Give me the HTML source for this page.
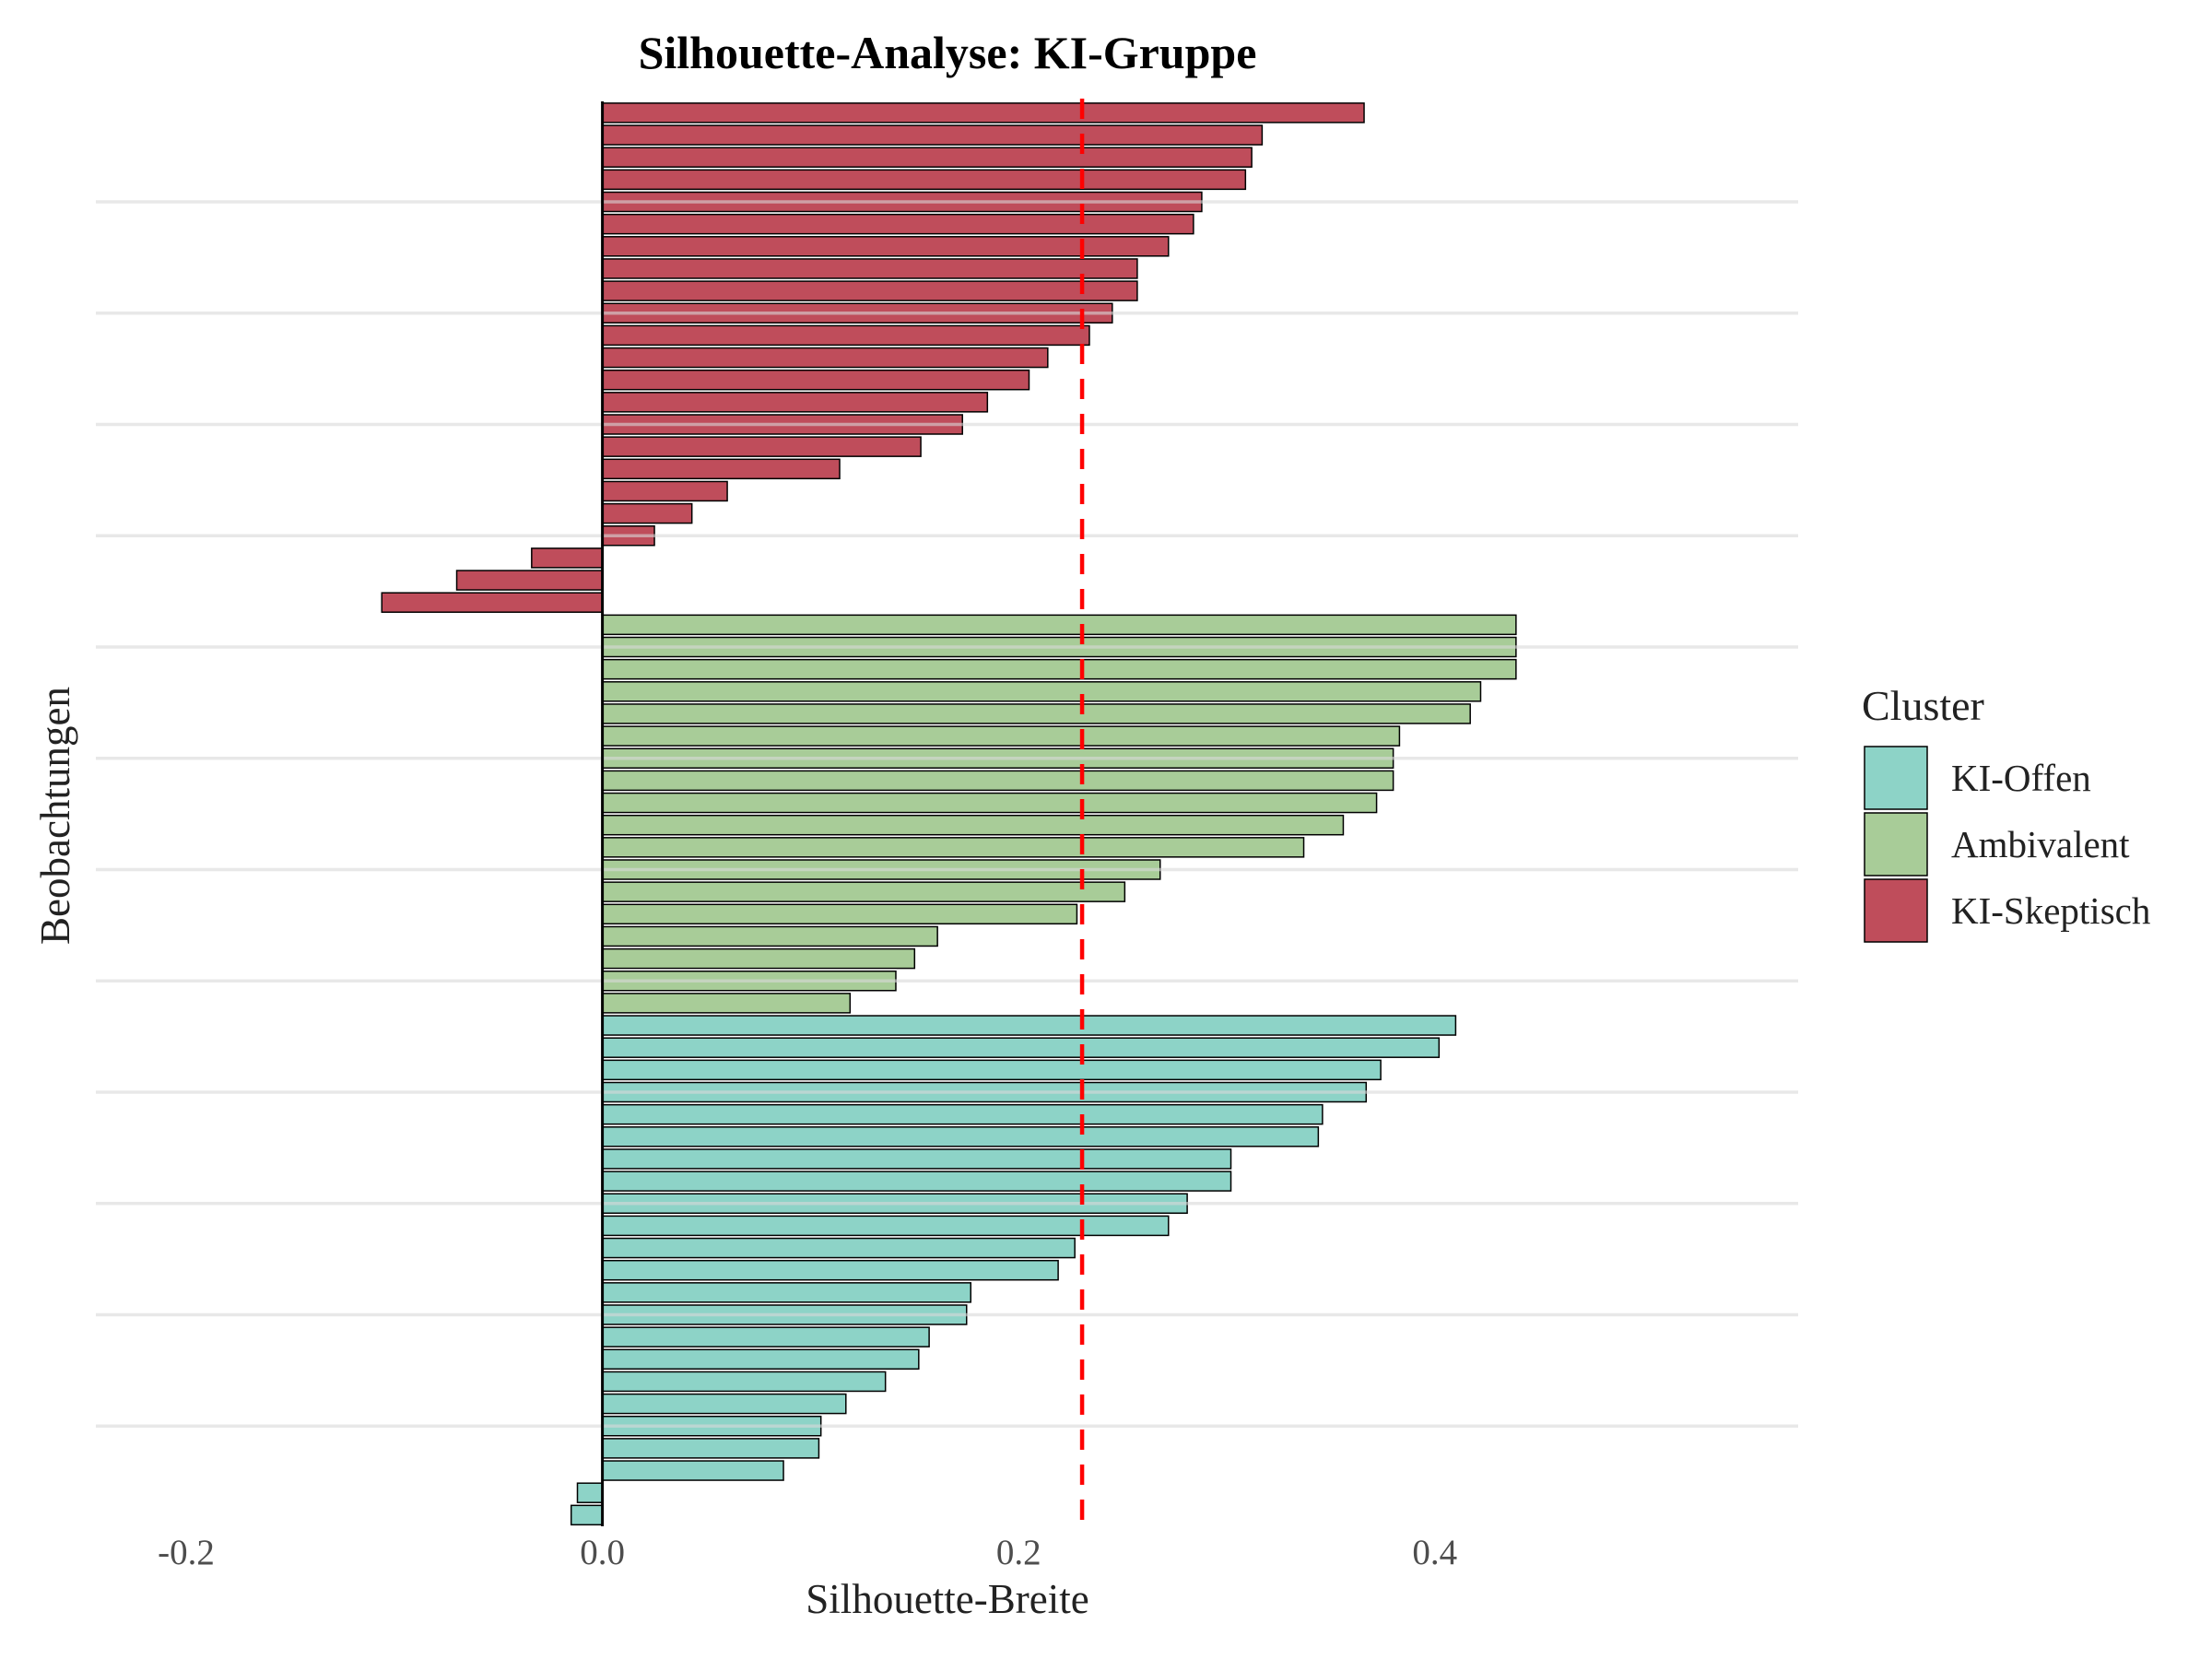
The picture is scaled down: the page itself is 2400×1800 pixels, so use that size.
<!DOCTYPE html>
<html><head><meta charset="utf-8"><style>
html,body{margin:0;padding:0;background:#fff;}
svg{display:block;font-family:"Liberation Serif",serif;}
</style></head><body>
<svg id="chart" width="2400" height="1800" viewBox="0 0 2400 1800">
<text x="1028" y="74" text-anchor="middle" font-size="50" font-weight="bold">Silhouette-Analyse: KI-Gruppe</text>
<g id="bars"></g>
<g id="grid"></g>
<g id="overlay"></g>
<g id="xticks"></g>
<text x="1028" y="1750" text-anchor="middle" font-size="45" fill="#222">Silhouette-Breite</text>
<text transform="translate(75,885) rotate(-90)" text-anchor="middle" font-size="45" fill="#222">Beobachtungen</text>
<g>
<text x="2020" y="781" font-size="46" fill="#222">Cluster</text>
<g><rect x="2023" y="810" width="68" height="68" fill="#8DD3C7" stroke="#000" stroke-width="1.5"/><text x="2117" y="858" font-size="41" fill="#222">KI-Offen</text></g>
<g><rect x="2023" y="882" width="68" height="68" fill="#A8CC98" stroke="#000" stroke-width="1.5"/><text x="2117" y="930" font-size="41" fill="#222">Ambivalent</text></g>
<g><rect x="2023" y="954" width="68" height="68" fill="#BF4D5B" stroke="#000" stroke-width="1.5"/><text x="2117" y="1002" font-size="41" fill="#222">KI-Skeptisch</text></g>
</g>
</svg>
<script>
const skeptisch=[0.366,0.317,0.312,0.309,0.288,0.284,0.272,0.257,0.257,0.245,0.234,0.214,0.205,0.185,0.173,0.153,0.114,0.060,0.043,0.025,-0.034,-0.070,-0.106];
const ambivalent=[0.439,0.439,0.439,0.422,0.417,0.383,0.380,0.380,0.372,0.356,0.337,0.268,0.251,0.228,0.161,0.150,0.141,0.119];
const offen=[0.410,0.402,0.374,0.367,0.346,0.344,0.302,0.302,0.281,0.272,0.227,0.219,0.177,0.175,0.157,0.152,0.136,0.117,0.105,0.104,0.087,-0.012,-0.015];
const xTicks=[-0.2,0.0,0.2,0.4];
const xTickLabels=["-0.2","0.0","0.2","0.4"];
const avgWidth=0.2305;
const colors={skeptisch:"#BF4D5B",ambivalent:"#A8CC98",offen:"#8DD3C7"};
const NS="http://www.w3.org/2000/svg";
const x=v=>653.6+v*2258;
const y=i=>122.4+i*24.15;
function mk(tag,attrs,parent){const e=document.createElementNS(NS,tag);for(const k in attrs)e.setAttribute(k,attrs[k]);parent.appendChild(e);return e;}
const all=[];
skeptisch.forEach(v=>all.push([v,colors.skeptisch,'skeptisch']));
ambivalent.forEach(v=>all.push([v,colors.ambivalent,'ambivalent']));
offen.forEach(v=>all.push([v,colors.offen,'offen']));
const bars=document.getElementById('bars');
all.forEach((d,i)=>{
  const x0=Math.min(x(0),x(d[0])),w=Math.abs(x(d[0])-x(0));
  const r=mk('rect',{x:x0,y:y(i)-10.5,width:w,height:21,fill:d[1],stroke:"#000","stroke-width":1.5},bars);
  
  
});
const grid=document.getElementById('grid');
for(let i=4;i<all.length;i+=5){
  const l=mk('line',{x1:104,x2:1951,y1:y(i),y2:y(i),stroke:"#d9d9d9","stroke-width":3.5,"stroke-opacity":0.6},grid);
  
  
}
const ov=document.getElementById('overlay');
const zl=mk('line',{x1:x(0),x2:x(0),y1:110,y2:1656,stroke:"#000","stroke-width":3},ov);


const al=mk('line',{x1:x(avgWidth),x2:x(avgWidth),y1:107,y2:1660,stroke:"#ff0000","stroke-width":4.5,"stroke-dasharray":"22,16"},ov);


const xt=document.getElementById('xticks');
xTicks.forEach((v,i)=>{
  const t=mk('text',{x:x(v),y:1697,"text-anchor":"middle","font-size":39,fill:"#4d4d4d"},xt);
  t.textContent=xTickLabels[i];
  
  
});
</script>
</body></html>
